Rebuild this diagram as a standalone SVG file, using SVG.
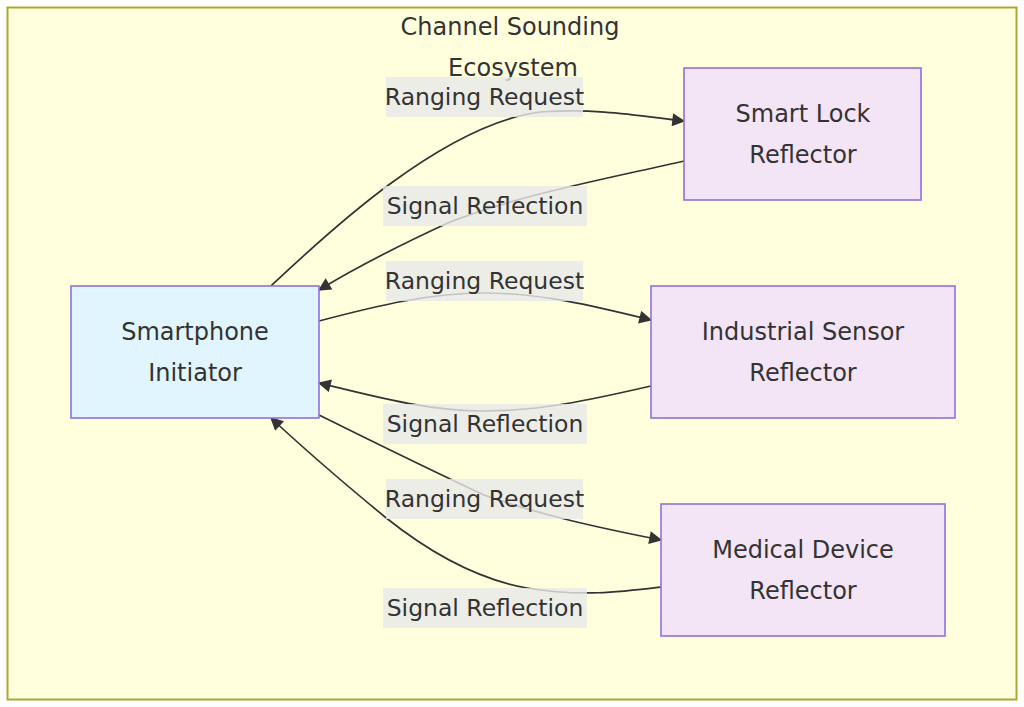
<svg xmlns="http://www.w3.org/2000/svg" width="1024" height="707" viewBox="0 0 1024 707">
<defs>
<marker id="arrow" viewBox="0 0 10 10" refX="9" refY="5" markerUnits="userSpaceOnUse" markerWidth="15" markerHeight="13" orient="auto">
<path d="M0,0 L10,5 L0,10 z" fill="#333333"/>
</marker>
<style>
.txt{font-family:"DejaVu Sans",sans-serif;font-size:24px;fill:#333333;text-anchor:middle;}
.ltxt{font-family:"DejaVu Sans",sans-serif;font-size:23.5px;fill:#333333;text-anchor:middle;}
.edge{fill:none;stroke:#333333;stroke-width:1.7;marker-end:url(#arrow);}
.lbl{fill:#e8e8e8;fill-opacity:0.8;}
.init{fill:#e1f5fe;stroke:#9370db;stroke-width:1.6;}
.refl{fill:#f3e5f5;stroke:#9370db;stroke-width:1.6;}
</style>
</defs>
<rect x="0" y="0" width="1024" height="707" fill="#ffffff"/>
<g id="cluster">
<rect x="7.5" y="7.5" width="1009" height="692" fill="#ffffde" stroke="#aaaa33" stroke-width="2"/>
<text class="txt" x="510" y="35">Channel Sounding</text>
<text class="txt" x="513" y="76">Ecosystem</text>
</g>
<g id="connectors">
<path class="edge" d="M271,286 C320,240 440,125 540,112 C600,108 640,116 684,121"/>
<path class="edge" d="M684,161 C600,180 520,195 450,222 C400,245 360,265 319,290"/>
<path class="edge" d="M319,321 C380,305 430,293 484,293 C540,293 590,305 651,320"/>
<path class="edge" d="M651,386 C590,400 540,411 484,411 C430,411 380,398 319,383"/>
<path class="edge" d="M319,415 C380,445 420,465 484,495 C540,515 600,528 661,540"/>
<path class="edge" d="M661,587 C620,592 580,597 527,588 C470,578 420,545 385,517 C340,480 300,445 271,418"/>
</g>
<g id="edge-labels">
<rect class="lbl" x="386" y="77" width="197" height="40"/>
<text class="ltxt" x="484.5" y="105">Ranging Request</text>
<rect class="lbl" x="383" y="186" width="204" height="40"/>
<text class="ltxt" x="485" y="214">Signal Reflection</text>
<rect class="lbl" x="386" y="261" width="197" height="40"/>
<text class="ltxt" x="484.5" y="289">Ranging Request</text>
<rect class="lbl" x="383" y="404" width="204" height="40"/>
<text class="ltxt" x="485" y="432">Signal Reflection</text>
<rect class="lbl" x="386" y="479" width="197" height="40"/>
<text class="ltxt" x="484.5" y="507">Ranging Request</text>
<rect class="lbl" x="383" y="588" width="204" height="40"/>
<text class="ltxt" x="485" y="616">Signal Reflection</text>
</g>
<g id="smartphone">
<rect class="init" x="71" y="286" width="248" height="132"/>
<text class="txt" x="195" y="340">Smartphone</text>
<text class="txt" x="195" y="381">Initiator</text>
</g>
<g id="smartlock">
<rect class="refl" x="684" y="68" width="237" height="132"/>
<text class="txt" x="803" y="122">Smart Lock</text>
<text class="txt" x="803" y="163">Reflector</text>
</g>
<g id="industrial">
<rect class="refl" x="651" y="286" width="304" height="132"/>
<text class="txt" x="803" y="340">Industrial Sensor</text>
<text class="txt" x="803" y="381">Reflector</text>
</g>
<g id="medical">
<rect class="refl" x="661" y="504" width="284" height="132"/>
<text class="txt" x="803" y="558">Medical Device</text>
<text class="txt" x="803" y="599">Reflector</text>
</g>
</svg>
